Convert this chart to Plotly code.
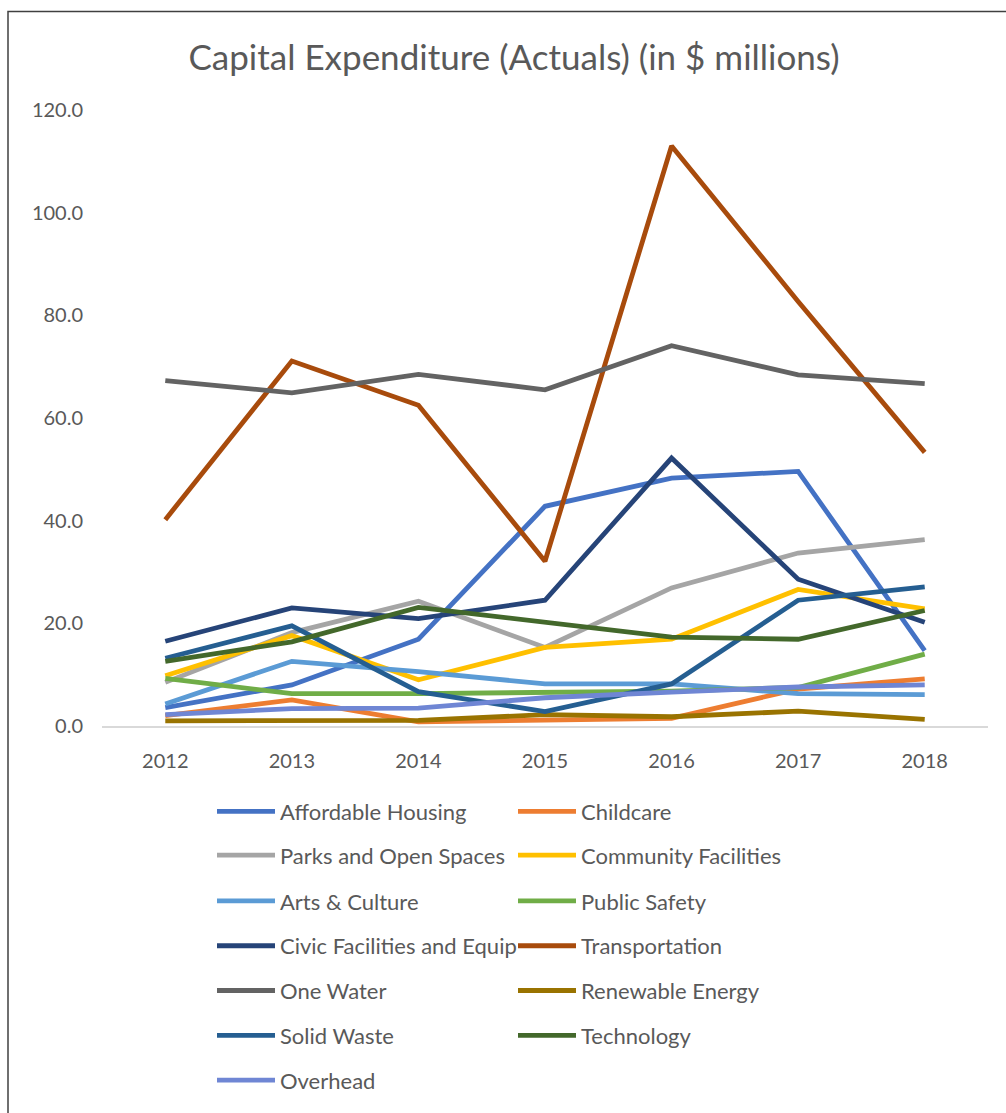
import plotly.graph_objects as go

# Capital expenditure actuals by program, $ millions
years = ["2012", "2013", "2014", "2015", "2016", "2017", "2018"]

affordable_housing = [3.6, 8.0, 16.9, 42.8, 48.3, 49.6, 14.7]
childcare = [2.0, 5.1, 0.8, 1.2, 1.5, 7.2, 9.2]
parks_open_spaces = [8.5, 18.2, 24.3, 15.3, 26.9, 33.7, 36.3]
community_facilities = [9.8, 17.6, 9.0, 15.3, 16.9, 26.6, 22.8]
arts_culture = [4.3, 12.6, 10.6, 8.2, 8.2, 6.3, 6.1]
public_safety = [9.3, 6.3, 6.3, 6.6, 6.8, 7.5, 14.0]
civic_facilities = [16.5, 23.0, 20.9, 24.5, 52.2, 28.6, 20.2]
transportation = [40.2, 71.1, 62.5, 32.1, 113.0, 82.7, 53.3]
one_water = [67.3, 64.9, 68.5, 65.5, 74.1, 68.4, 66.7]
renewable_energy = [1.0, 1.0, 1.1, 2.2, 1.8, 2.9, 1.3]
solid_waste = [13.2, 19.5, 6.7, 2.8, 8.2, 24.5, 27.1]
technology = [12.6, 16.4, 23.1, 20.3, 17.3, 16.9, 22.5]
overhead = [2.2, 3.4, 3.5, 5.5, 6.6, 7.6, 8.0]

series = [
    ("Affordable Housing", affordable_housing, "#4472C4"),
    ("Childcare", childcare, "#ED7D31"),
    ("Parks and Open Spaces", parks_open_spaces, "#A5A5A5"),
    ("Community Facilities", community_facilities, "#FFC000"),
    ("Arts & Culture", arts_culture, "#5B9BD5"),
    ("Public Safety", public_safety, "#70AD47"),
    ("Civic Facilities and Equip", civic_facilities, "#264478"),
    ("Transportation", transportation, "#A84B0C"),
    ("One Water", one_water, "#636363"),
    ("Renewable Energy", renewable_energy, "#997300"),
    ("Solid Waste", solid_waste, "#255E91"),
    ("Technology", technology, "#43682B"),
    ("Overhead", overhead, "#6F86D4"),
]

W, H = 1006, 1113
ML, MR, MT, MB = 102, 18, 110, 384
PW, PH = W - ML - MR, H - MT - MB
FONT = "Lato, 'Open Sans', sans-serif"
TXT = "#595959"


def px_x(px):
    return (px - ML) / PW


def px_y(py):
    return (H - MB - py) / PH


fig = go.Figure()

# two entries per legend row, one legend per row
row_centres = [815, 859, 905, 950, 995, 1040, 1085]
for i, (name, vals, col) in enumerate(series):
    row = i // 2
    key = "legend" if row == 0 else f"legend{row + 1}"
    fig.add_trace(go.Scatter(
        x=years, y=vals, name=name, mode="lines",
        line=dict(color=col, width=4.8),
        legend=key,
    ))

legend_cfg = {}
for row, yc in enumerate(row_centres):
    key = "legend" if row == 0 else f"legend{row + 1}"
    legend_cfg[key] = dict(
        orientation="h",
        x=px_x(212), xanchor="left",
        y=px_y(yc), yanchor="middle",
        entrywidth=228, entrywidthmode="pixels",
        itemwidth=58,
        font=dict(family=FONT, size=22, color=TXT),
        bgcolor="rgba(0,0,0,0)",
        traceorder="normal",
        itemclick=False,
    )

fig.update_layout(
    width=W, height=H,
    margin=dict(l=ML, r=MR, t=MT, b=MB),
    paper_bgcolor="white",
    plot_bgcolor="white",
    title=dict(
        text="Capital Expenditure (Actuals) (in $ millions)",
        x=514 / W, xref="container", xanchor="center",
        y=1 - 58 / H, yanchor="middle",
        font=dict(family=FONT, size=35, color=TXT),
    ),
    xaxis=dict(
        type="category", range=[-0.5, 6.5],
        showgrid=False, zeroline=False,
        showline=True, linecolor="#D9D9D9", linewidth=1.5,
        ticks="", ticklabelstandoff=16,
        tickfont=dict(family=FONT, size=20, color=TXT),
    ),
    yaxis=dict(
        range=[0, 120], dtick=20, tickformat=".1f",
        showgrid=False, zeroline=False, showline=False,
        ticks="", ticklabelstandoff=18,
        tickfont=dict(family=FONT, size=20, color=TXT),
    ),
    shapes=[dict(
        type="rect", xref="paper", yref="paper",
        x0=px_x(8), x1=px_x(1020), y0=px_y(1130), y1=px_y(11),
        line=dict(color="#404040", width=1.5), fillcolor="rgba(0,0,0,0)",
        layer="above",
    )],
    **legend_cfg,
)

fig.write_html("out.html")
